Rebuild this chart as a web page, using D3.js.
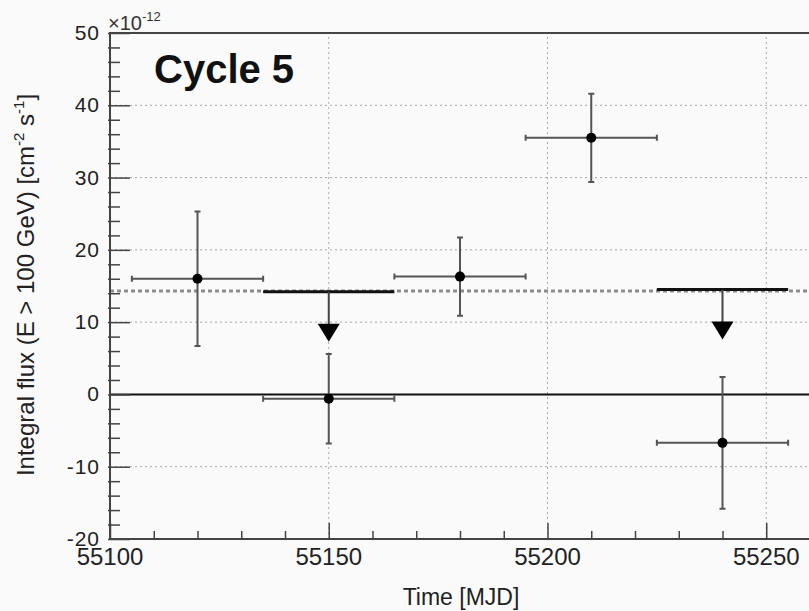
<!DOCTYPE html>
<html>
<head>
<meta charset="utf-8">
<script src="https://cdn.jsdelivr.net/npm/d3@7"></script>
<style>
  body { margin: 0; background: #fafafa; }
  svg { display: block; font-family: "Liberation Sans", Arial, sans-serif; }
</style>
</head>
<body>
<div id="chart"></div>
<script>
// Light curve points (flux in units of 1e-12 cm^-2 s^-1)
const timeMjd = [55120, 55150, 55180, 55210, 55240];
const binHalfWidth = [15, 15, 15, 15, 15];
const flux = [16.0, -0.6, 16.3, 35.5, -6.7];
const fluxErr = [9.3, 6.2, 5.4, 6.1, 9.1];

// Upper limits
const ulTime = [55150, 55240];
const ulHalfWidth = [15, 15];
const ulFlux = [14.2, 14.5];

// Mean flux (dashed line)
const meanFlux = 14.3;

const xTicksMajor = [55100, 55150, 55200, 55250];
const yTicksMajor = [-20, -10, 0, 10, 20, 30, 40, 50];

const width = 809, height = 611;
const margin = { top: 33, right: -1, bottom: 72, left: 110 };

const svg = d3.select("#chart").append("svg")
    .attr("width", width)
    .attr("height", height);

svg.append("rect").attr("width", width).attr("height", height).attr("fill", "#fafafa");

const x = d3.scaleLinear()
    .domain([55100, 55260])
    .range([margin.left, width - margin.right]);

const y = d3.scaleLinear()
    .domain([-20, 50])
    .range([height - margin.bottom, margin.top]);

const x0 = x.range()[0], x1 = x.range()[1];
const y0 = y.range()[0], y1 = y.range()[1];

// Grid
const grid = svg.append("g").attr("stroke", "#a8a8a8").attr("stroke-width", 1)
    .attr("stroke-dasharray", "2,3");
grid.selectAll(".gx").data(xTicksMajor.slice(1)).enter().append("line")
    .attr("x1", d => x(d)).attr("x2", d => x(d))
    .attr("y1", y0).attr("y2", y1);
grid.selectAll(".gy").data(yTicksMajor.slice(1, -1)).enter().append("line")
    .attr("x1", x0).attr("x2", x1)
    .attr("y1", d => y(d)).attr("y2", d => y(d));

// Mean flux dashed line
svg.append("line")
    .attr("x1", x0).attr("x2", x1)
    .attr("y1", y(meanFlux)).attr("y2", y(meanFlux))
    .attr("stroke", "#8c8c8c").attr("stroke-width", 3)
    .attr("stroke-dasharray", "4,3");

// Zero line
svg.append("line")
    .attr("x1", x0).attr("x2", x1)
    .attr("y1", y(0)).attr("y2", y(0))
    .attr("stroke", "#111").attr("stroke-width", 2);

// Axes (ticks inward)
const xAxis = d3.axisTop(x)
    .tickValues(d3.range(55100, 55261, 10))
    .tickSize(8).tickFormat("");
svg.append("g").attr("transform", `translate(0,${y0})`).call(xAxis)
    .call(g => g.select(".domain").remove())
    .call(g => g.selectAll(".tick line")
        .attr("stroke", "#444").attr("stroke-width", 1.5)
        .attr("y2", d => xTicksMajor.includes(d) ? -16 : -8));

const yAxis = d3.axisRight(y)
    .tickValues(d3.range(-20, 51, 2))
    .tickSize(10).tickFormat("");
svg.append("g").attr("transform", `translate(${x0},0)`).call(yAxis)
    .call(g => g.select(".domain").remove())
    .call(g => g.selectAll(".tick line")
        .attr("stroke", "#444").attr("stroke-width", 1.5)
        .attr("x1", -2)
        .attr("x2", d => yTicksMajor.includes(d) ? 20 : 10));

// Frame
svg.append("path")
    .attr("d", `M${x1},${y1}H${x0}V${y0}H${x1}`)
    .attr("fill", "none").attr("stroke", "#444").attr("stroke-width", 2);

// Tick labels
svg.selectAll(".xl").data(xTicksMajor).enter().append("text")
    .attr("x", d => x(d)).attr("y", y0 + 26)
    .attr("text-anchor", "middle")
    .attr("font-size", 24).attr("fill", "#222")
    .text(d => d);

svg.selectAll(".yl").data(yTicksMajor).enter().append("text")
    .attr("x", x0 - 10).attr("y", d => y(d) + 7)
    .attr("text-anchor", "end")
    .attr("font-size", 21).attr("letter-spacing", 1)
    .attr("fill", "#222")
    .text(d => d);

// Exponent label
const expo = svg.append("text").attr("x", x0 - 2).attr("y", y1 - 3)
    .attr("font-size", 20).attr("fill", "#333");
expo.append("tspan").text("\u00d710");
expo.append("tspan").attr("font-size", 13).attr("dy", -9).text("-12");

// Axis titles
svg.append("text")
    .attr("x", 461).attr("y", 605)
    .attr("text-anchor", "middle")
    .attr("font-size", 23).attr("fill", "#222")
    .text("Time [MJD]");

const yt = svg.append("text")
    .attr("transform", `translate(34,285) rotate(-90)`)
    .attr("text-anchor", "middle")
    .attr("font-size", 24).attr("fill", "#222");
yt.append("tspan").text("Integral flux (E > 100 GeV) [cm");
yt.append("tspan").attr("font-size", 15).attr("dy", -10).text("-2");
yt.append("tspan").attr("dy", 10).text(" s");
yt.append("tspan").attr("font-size", 15).attr("dy", -10).text("-1");
yt.append("tspan").attr("dy", 10).text("]");

// Title
svg.append("text")
    .attr("x", 154).attr("y", 83)
    .attr("font-size", 40).attr("font-weight", "bold").attr("fill", "#111")
    .text("Cycle 5");

// Error bars
const pts = timeMjd.map((t, i) => ({ t, hw: binHalfWidth[i], f: flux[i], e: fluxErr[i] }));
const errG = svg.append("g").attr("stroke", "#555").attr("stroke-width", 2).attr("fill", "none");
const cap = 3;
pts.forEach(p => {
    errG.append("path").attr("d",
        `M${x(p.t - p.hw)},${y(p.f)}H${x(p.t + p.hw)}` +
        `M${x(p.t - p.hw)},${y(p.f) - cap}v${2 * cap}` +
        `M${x(p.t + p.hw)},${y(p.f) - cap}v${2 * cap}` +
        `M${x(p.t)},${y(p.f + p.e)}V${y(p.f - p.e)}` +
        `M${x(p.t) - cap},${y(p.f + p.e)}h${2 * cap}` +
        `M${x(p.t) - cap},${y(p.f - p.e)}h${2 * cap}`);
});

// Upper limits
const ulG = svg.append("g");
ulTime.forEach((t, i) => {
    const cx = x(t), cy = y(ulFlux[i]);
    ulG.append("line")
        .attr("x1", x(t - ulHalfWidth[i])).attr("x2", x(t + ulHalfWidth[i]))
        .attr("y1", cy).attr("y2", cy)
        .attr("stroke", "#111").attr("stroke-width", 3);
    ulG.append("line")
        .attr("x1", cx).attr("x2", cx).attr("y1", cy).attr("y2", cy + 34)
        .attr("stroke", "#444").attr("stroke-width", 2);
    ulG.append("path")
        .attr("d", `M${cx - 11},${cy + 32}H${cx + 11}L${cx},${cy + 50}Z`)
        .attr("fill", "#000");
});

// Markers
svg.selectAll(".pt").data(pts).enter().append("circle")
    .attr("cx", d => x(d.t)).attr("cy", d => y(d.f))
    .attr("r", 5).attr("fill", "#000");
</script>
</body>
</html>
